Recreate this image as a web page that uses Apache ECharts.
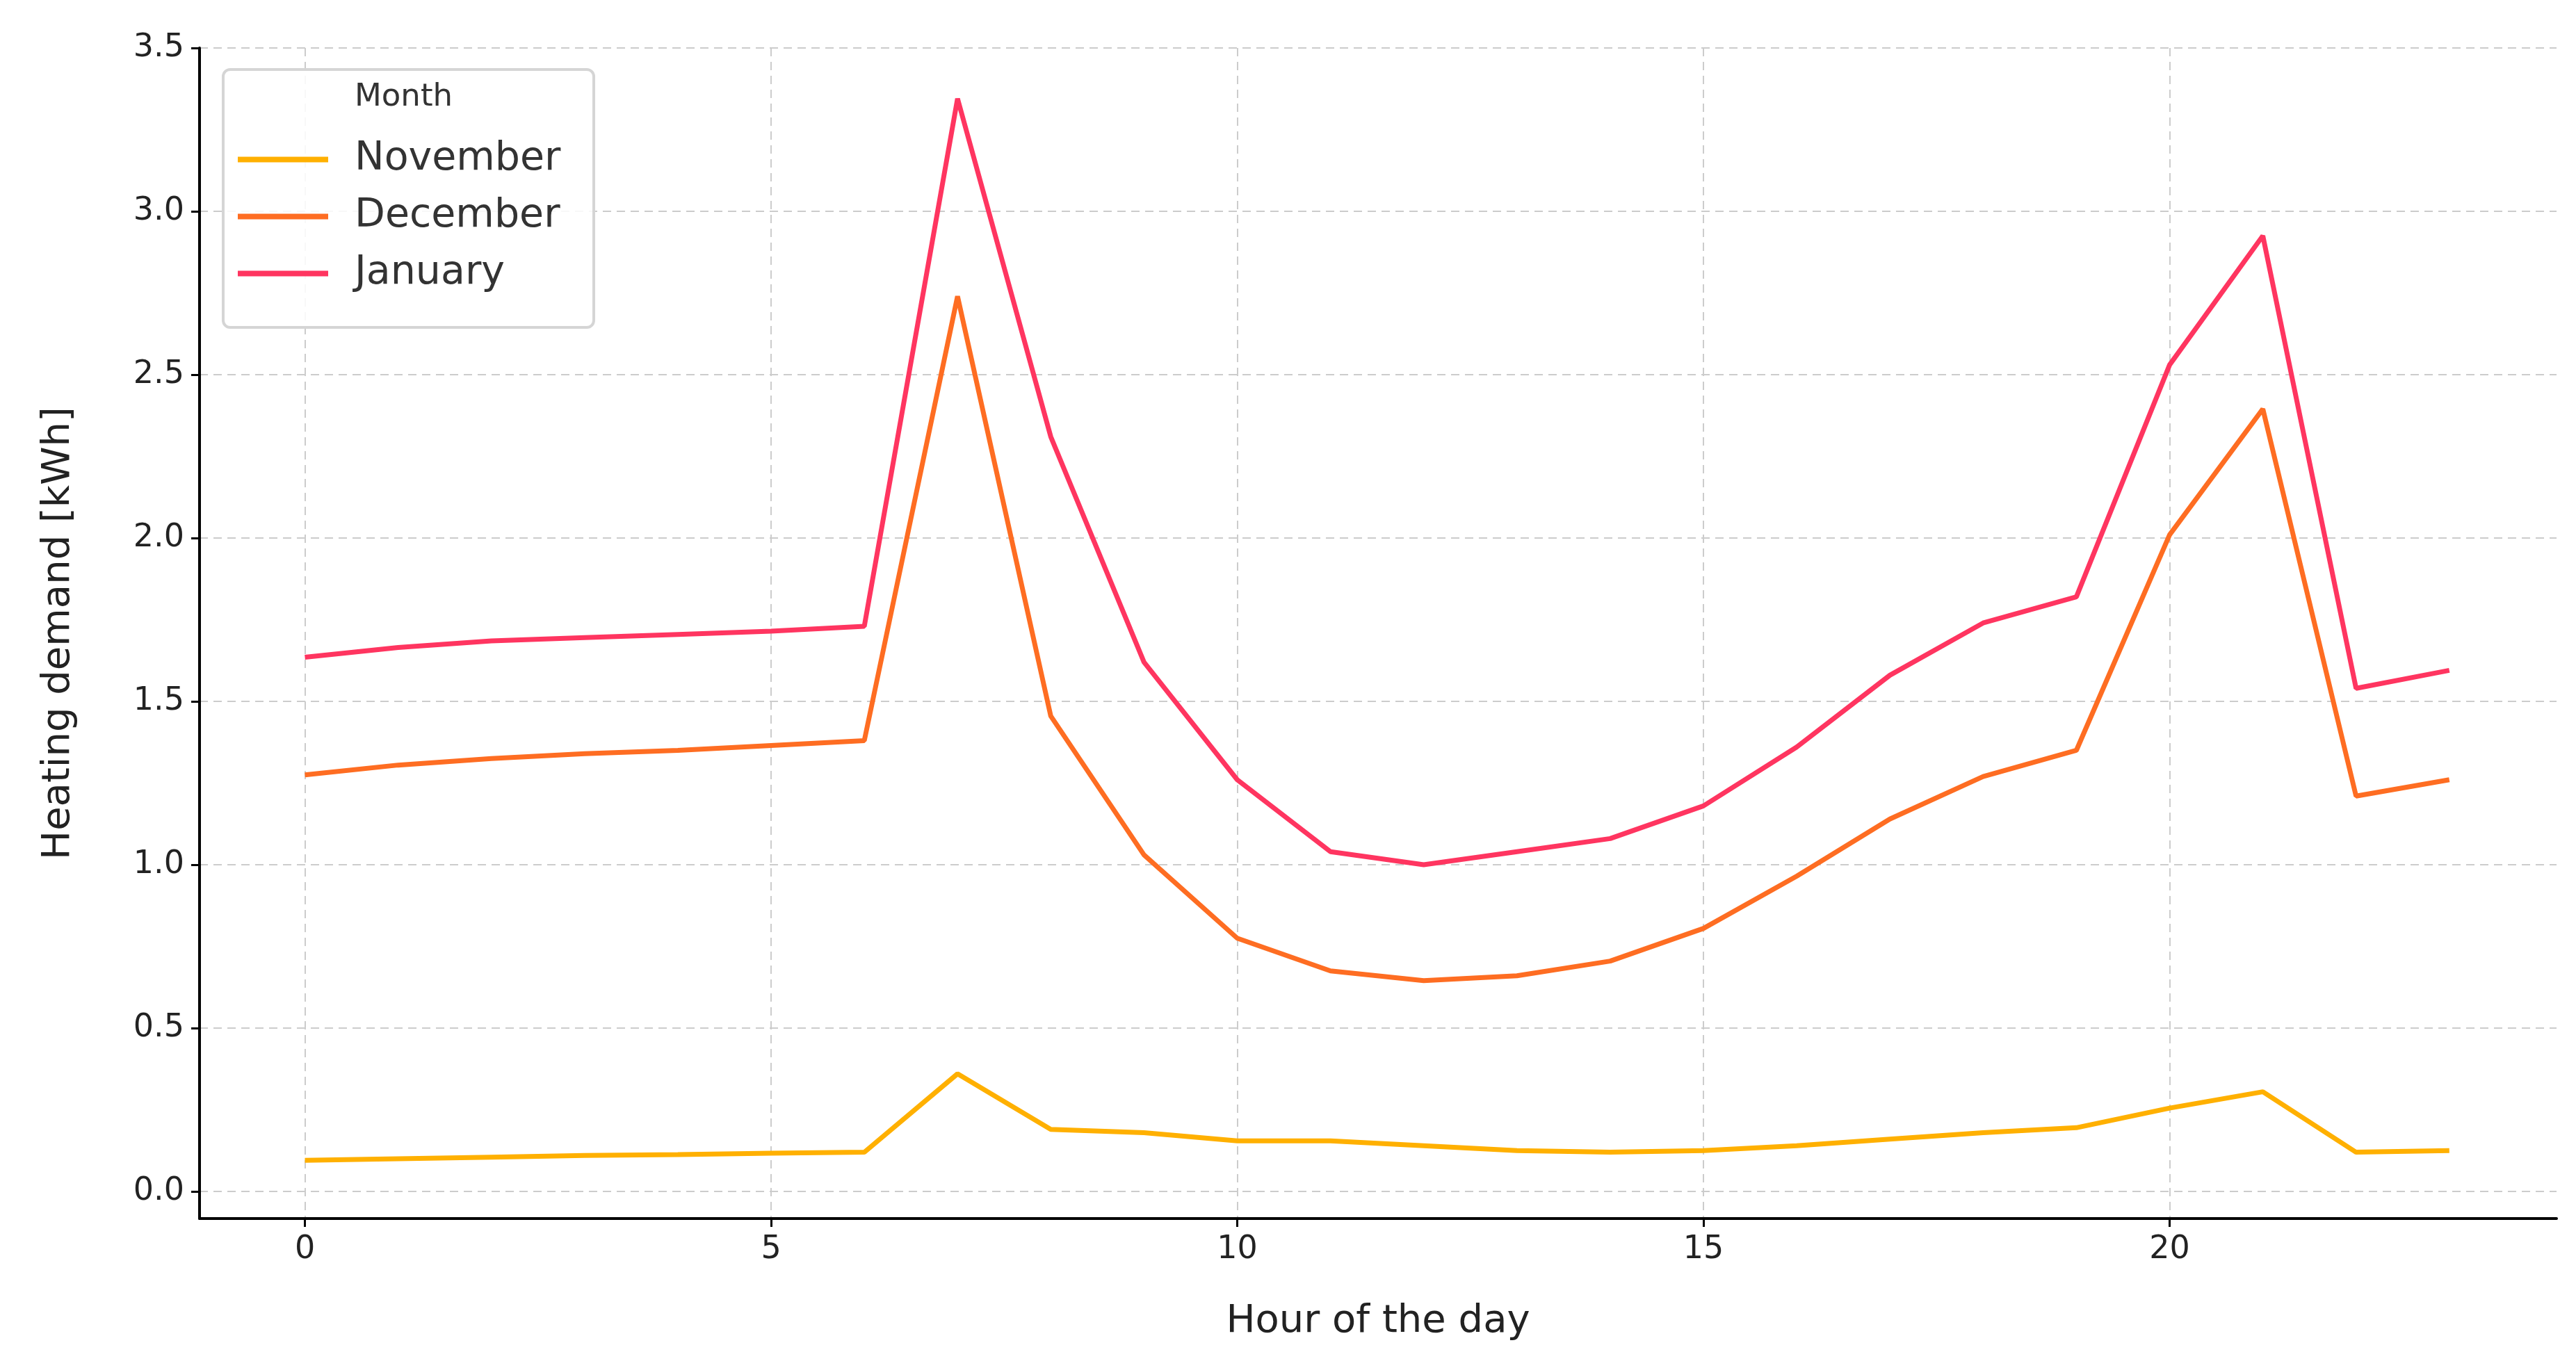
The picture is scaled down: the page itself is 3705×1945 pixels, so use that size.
<!DOCTYPE html>
<html><head><meta charset="utf-8">
<script src="https://cdn.jsdelivr.net/npm/echarts@6/dist/echarts.min.js"></script>
<style>html,body{margin:0;padding:0;background:#fff}#c{width:3705px;height:1945px}</style>
</head><body><div id="c"></div>
<script>
const hours = [0,1,2,3,4,5,6,7,8,9,10,11,12,13,14,15,16,17,18,19,20,21,22,23];
const november = [0.095,0.1,0.105,0.11,0.113,0.117,0.12,0.36,0.19,0.18,0.155,0.155,0.14,0.125,0.12,0.125,0.14,0.16,0.18,0.195,0.255,0.305,0.12,0.125];
const december = [1.275,1.305,1.325,1.34,1.35,1.365,1.38,2.74,1.455,1.03,0.775,0.675,0.645,0.66,0.705,0.805,0.965,1.14,1.27,1.35,2.01,2.395,1.21,1.26];
const january = [1.635,1.665,1.685,1.695,1.705,1.715,1.73,3.345,2.31,1.62,1.26,1.04,1.0,1.04,1.08,1.18,1.36,1.58,1.74,1.82,2.53,2.925,1.54,1.595];
const xTicks = [0,5,10,15,20];
const yTicks = [0,0.5,1.0,1.5,2.0,2.5,3.0,3.5];
const font = 'DejaVu Sans';
const pair = a => a.map((v,i)=>[hours[i],v]);
const chart = echarts.init(document.getElementById('c'));
const mk = (name,data,color)=>({name,type:'line',data:pair(data),symbol:'none',lineStyle:{width:7,color},itemStyle:{color},z:3});
chart.setOption({
  animation:false,
  backgroundColor:'#fff',
  textStyle:{fontFamily:font},
  grid:{left:287,right:28,top:69,bottom:192},
  xAxis:{type:'value',min:-1.13,max:24.15,
    name:'Hour of the day',nameLocation:'middle',nameGap:120,nameTextStyle:{fontSize:56,color:'#222',fontFamily:font},
    axisLine:{show:true,onZero:false,lineStyle:{color:'#000',width:4}},
    axisTick:{show:true,length:12,lineStyle:{color:'#000',width:3},customValues:xTicks},
    axisLabel:{fontSize:46,color:'#222',margin:22,customValues:xTicks,formatter:v=>String(v)},
    splitLine:{show:true,lineStyle:{color:'#cccccc',type:[12,8],width:2}}},
  yAxis:{type:'value',min:-0.083,max:3.5,
    name:'Heating demand [kWh]',nameLocation:'middle',nameGap:175,nameTextStyle:{fontSize:56,color:'#222',fontFamily:font},
    axisLine:{show:true,onZero:false,lineStyle:{color:'#000',width:4}},
    axisTick:{show:true,length:12,lineStyle:{color:'#000',width:3},customValues:yTicks},
    axisLabel:{fontSize:46,color:'#222',margin:22,customValues:yTicks,formatter:v=>v.toFixed(1)},
    splitLine:{show:true,lineStyle:{color:'#cccccc',type:[12,8],width:2}}},
  legend:{orient:'vertical',left:337,top:196,itemWidth:130,itemHeight:8,itemGap:25,z:20,
    icon:'rect',
    textStyle:{fontSize:57,color:'#333',padding:[0,0,0,33],fontFamily:font},
    data:['November','December','January']},
  graphic:[
    {type:'rect',left:319,top:98,z:5,shape:{width:533,height:371,r:10},style:{fill:'rgba(255,255,255,0.85)',stroke:'#d5d5d5',lineWidth:4}},
    {type:'text',left:510,top:118,z:6,style:{text:'Month',fontSize:45,fill:'#333',fontFamily:font}}
  ],
  series:[mk('November',november,'#FFB000'),mk('December',december,'#FE6D22'),mk('January',january,'#FF3560')]
});
</script></body></html>
